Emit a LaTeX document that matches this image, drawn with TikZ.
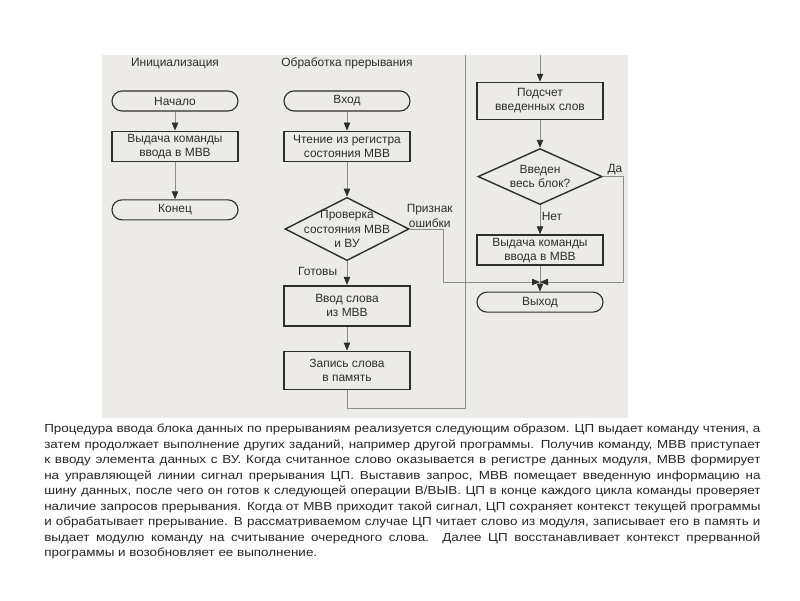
\documentclass[tikz,border=0pt]{standalone}
\usepackage{fontspec}
\setmainfont{Liberation Sans}
\newfontfamily\widefont[FakeStretch=1.15]{Liberation Sans}
\usepackage{xcolor}
\usepackage{tikz}
\usetikzlibrary{shapes.geometric, arrows.meta, positioning, calc}
\definecolor{ScanGray}{HTML}{ECEBE7}
\definecolor{InkDark}{HTML}{2E2E2E}
\definecolor{LineGray}{HTML}{8C8C8C}
\definecolor{TextInk}{HTML}{262626}
\newcommand{\jline}[1]{\makebox[17.9cm][s]{#1}}

\begin{document}
\begin{tikzpicture}[
    x=0.025cm, y=-0.025cm,
    term/.style={draw=InkDark, rounded corners=0.25cm, minimum width=3.15cm, minimum height=0.5cm,
                 inner sep=1pt, text centered, font=\fontsize{8.5}{10}\selectfont, text=InkDark, line width=0.8pt},
    procbox/.style={draw=InkDark, minimum width=3.15cm, minimum height=0.75cm, inner sep=1pt,
                    align=center, font=\fontsize{8.5}{10}\selectfont, text=InkDark, line width=1.2pt},
    decision/.style={diamond, draw=InkDark, minimum width=3.1cm, minimum height=1.4cm, inner sep=0pt,
                     aspect=2.2, align=center, font=\fontsize{8.5}{10}\selectfont, text=InkDark, line width=1pt},
    title/.style={font=\fontsize{8.5}{10}\selectfont, text=InkDark, inner sep=1pt},
    note/.style={font=\fontsize{8.5}{10}\selectfont, text=InkDark, inner sep=1pt, align=center},
    desc/.style={inner sep=0pt, align=left, font=\widefont\fontsize{8.3}{11}\selectfont, text=TextInk},
    link/.style={draw=LineGray, line width=0.6pt},
    arrow/.style={-{Triangle[length=2mm, width=1.6mm, color=InkDark]}, draw=LineGray, line width=0.6pt}
  ]
    \useasboundingbox (0,0) rectangle (800,600);
    \fill[ScanGray] (102,55) rectangle (628,418);

    % Initialization
    \node[term] (start) at (175,101) {Начало};
    \node[title, above=0.5cm of start] (initT) {Инициализация};
    \node[procbox, below=0.475cm of start] (issue1) {Выдача команды\\ввода в МВВ};
    \node[term, below=0.925cm of issue1] (stop) {Конец};

    % Interrupt handling
    \node[term] (entry) at (347,101) {Вход};
    \node[title, above=0.5cm of entry] (irqT) {Обработка прерывания};
    \node[procbox, below=0.475cm of entry] (readst) {Чтение из регистра\\состояния МВВ};
    \node[decision, aspect=1.94, inner sep=-6pt, minimum height=1.58cm, below=0.86cm of readst] (check)
      {Проверка\\состояния МВВ\\и ВУ};
    \node[procbox, minimum height=1cm, below=0.59cm of check] (getword) {Ввод слова\\из МВВ};
    \node[procbox, minimum height=0.95cm, below=0.6cm of getword] (store) {Запись слова\\в память};

    % Word counting and exit
    \node[procbox, minimum height=0.92cm] (count) at (540,101) {Подсчет\\введенных слов};
    \node[decision, below=0.69cm of count] (full) {Введен\\весь блок?};
    \node[procbox, below=0.725cm of full] (issue2) {Выдача команды\\ввода в МВВ};
    \node[term, below=0.64cm of issue2] (exit) {Выход};

    % Route points
    \coordinate (join) at (540,282);
    \coordinate (errC) at (443,282);
    \coordinate (yesC) at (623,282);
    \coordinate (loopB) at (465,408);
    \coordinate (topL) at (465,55);
    \coordinate (topR) at (540,55);

    % Arrows
    \draw[arrow] (start) -- (issue1);
    \draw[arrow] (issue1) -- (stop);
    \draw[arrow] (entry) -- (readst);
    \draw[arrow] (readst) -- (check);
    \draw[arrow] (check) -- node[note, left=0.2cm, pos=0.45] {Готовы} (getword);
    \draw[arrow] (getword) -- (store);
    \draw[link] (store.south) |- (loopB) -- (topL);
    \draw[arrow] (topR) -- (count);
    \draw[arrow] (count) -- (full);
    \draw[arrow] (full) -- node[note, right, pos=0.4] {Нет} (issue2);
    \draw[arrow] (issue2) -- (exit);
    \draw[arrow] (check.east) -| node[note, above, pos=0.3] {Признак\\ошибки} (errC) -- (join);
    \draw[arrow] (full.east) -| node[note, above, pos=0.3] {Да} (yesC) -- (join);

    % Description
    \node[desc, anchor=north west] (descr) at (44,424) {%
      \jline{Процедура ввода блока данных по прерываниям реализуется следующим образом. ЦП выдает команду чтения, а}\\
      \jline{затем продолжает выполнение других заданий, например другой программы. Получив команду, МВВ приступает}\\
      \jline{к вводу элемента данных с ВУ. Когда считанное слово оказывается в регистре данных модуля, МВВ формирует}\\
      \jline{на управляющей линии сигнал прерывания ЦП. Выставив запрос, МВВ помещает введенную информацию на}\\
      \jline{шину данных, после чего он готов к следующей операции В/ВЫВ. ЦП в конце каждого цикла команды проверяет}\\
      \jline{наличие запросов прерывания. Когда от МВВ приходит такой сигнал, ЦП сохраняет контекст текущей программы}\\
      \jline{и обрабатывает прерывание. В рассматриваемом случае ЦП читает слово из модуля, записывает его в память и}\\
      \jline{выдает модулю команду на считывание очередного слова. Далее ЦП восстанавливает контекст прерванной}\\
      программы и возобновляет ее выполнение.};
  \end{tikzpicture}
\end{document}
